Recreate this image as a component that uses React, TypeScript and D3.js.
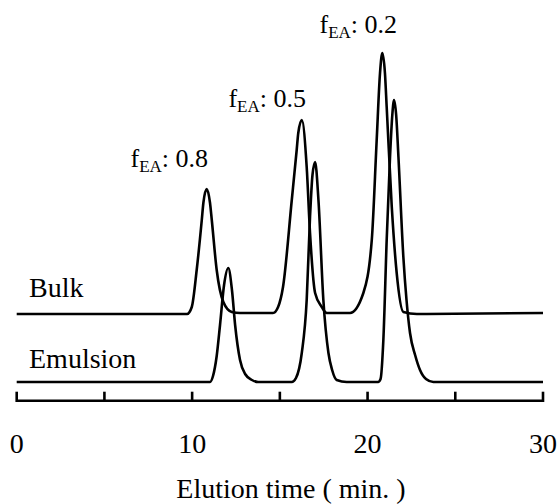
import React, { useRef, useEffect } from 'react';
import * as d3 from 'd3';

const WIDTH = 560;
const HEIGHT = 504;
const FONT = 'Liberation Serif, Tinos, DejaVu Serif, serif';

// elution time (min) and detector signal
const bulkTime = [0, 9.71, 9.98, 10.26, 10.55, 10.64, 10.83, 11.02, 11.12, 11.4, 11.78, 12.26, 12.73,
  14.61, 14.9, 15.18, 15.68, 15.96, 16.05, 16.25, 16.53, 16.72, 17.01, 17.39, 17.67,
  19.0, 19.76, 20.24, 20.52, 20.71, 20.84, 20.99, 21.09, 21.38, 21.66, 22.04, 22.81, 30.0];
const bulkSignal = [0, 0, 7, 44, 94, 111, 125, 111, 94, 44, 12, 2, 1,
  1, 7, 27, 114, 164, 181, 194, 147, 81, 21, 7, 1,
  1, 21, 74, 174, 241, 261, 241, 207, 107, 41, 2, 0, 1];

const emulsionTime = [0, 11.02, 11.19, 11.4, 11.59, 11.82, 12.06, 12.27, 12.45, 12.73, 13.02, 13.41, 13.76,
  15.68, 15.92, 16.25, 16.53, 16.72, 16.86, 17.01, 17.2, 17.48, 17.77, 17.98, 18.24, 18.81,
  20.6, 20.74, 20.9, 21.09, 21.28, 21.41, 21.51, 21.63, 21.76, 22.04, 22.22, 22.42, 22.71, 22.99, 23.33, 23.75, 30.0];
const emulsionSignal = [0, 0, 6, 26, 57, 97, 114, 92, 57, 22, 8, 2, 0,
  0, 4, 29, 82, 165, 207, 220, 182, 82, 29, 12, 2, 0,
  0, 3, 42, 142, 225, 267, 282, 267, 225, 125, 82, 49, 27, 12, 3, 0, 0];

const BULK_OFFSET = 68;

const peakLabels = ['0.8', '0.5', '0.2'];
const peakLabelTime = [10.91, 16.49, 21.68];
const peakLabelSignal = [215, 275, 349];

const xTicks = [0, 5, 10, 15, 20, 25, 30];
const xTickLabels = [0, 10, 20, 30];

export default function App() {
  const svgRef = useRef<SVGSVGElement>(null);

  useEffect(() => {
    const svg = d3.select(svgRef.current);
    svg.selectAll('*').remove();

    const x = d3.scaleLinear().domain([0, 30]).range([16.7, 543]);
    const y = d3.scaleLinear().domain([0, 300]).range([382, 82]);

    const line = d3.line<[number, number]>()
      .x(d => x(d[0]))
      .y(d => y(d[1]))
      .curve(d3.curveMonotoneX);

    const bulk = bulkTime.map((t, i) => [t, bulkSignal[i] + BULK_OFFSET] as [number, number]);
    const emulsion = emulsionTime.map((t, i) => [t, emulsionSignal[i]] as [number, number]);

    [bulk, emulsion].forEach(data => {
      svg.append('path')
        .attr('d', line(data))
        .attr('fill', 'none')
        .attr('stroke', '#000')
        .attr('stroke-width', 2.6)
        .attr('stroke-linejoin', 'round');
    });

    const root = svg.append('g').attr('font-family', FONT);

    // series labels
    root.append('text').attr('x', 29).attr('y', y(BULK_OFFSET) - 17)
      .attr('font-size', 28).text('Bulk');
    root.append('text').attr('x', 29).attr('y', y(0) - 14)
      .attr('font-size', 28).text('Emulsion');

    // peak labels  f_EA: value
    peakLabels.forEach((lab, i) => {
      const t = root.append('text')
        .attr('x', x(peakLabelTime[i]))
        .attr('y', y(peakLabelSignal[i]))
        .attr('text-anchor', 'end')
        .attr('font-size', 26);
      t.append('tspan').text('f');
      t.append('tspan').attr('font-size', 17).attr('dy', 5).text('EA');
      t.append('tspan').attr('dy', -5).text(`: ${lab}`);
    });

    // axis
    const axisY = 400.7;
    const g = root.append('g').attr('transform', `translate(0,${axisY})`);
    g.append('line')
      .attr('x1', x(0)).attr('x2', x(30))
      .attr('stroke', '#000').attr('stroke-width', 2.6);
    g.selectAll('line.tick')
      .data(xTicks)
      .join('line')
      .attr('class', 'tick')
      .attr('x1', d => x(d)).attr('x2', d => x(d))
      .attr('y1', 1.3).attr('y2', -9)
      .attr('stroke', '#000').attr('stroke-width', 2.6);
    g.selectAll('text.tl')
      .data(xTickLabels)
      .join('text')
      .attr('class', 'tl')
      .attr('x', d => x(d))
      .attr('y', 52.5)
      .attr('text-anchor', 'middle')
      .attr('font-size', 28)
      .text(d => d);

    root.append('text')
      .attr('x', 291).attr('y', 498)
      .attr('text-anchor', 'middle')
      .attr('font-size', 28)
      .text('Elution time ( min. )');
  }, []);

  return (
    <svg
      ref={svgRef}
      width={WIDTH}
      height={HEIGHT}
      style={{ position: 'absolute', left: 0, top: 0, background: '#fff' }}
    />
  );
}
